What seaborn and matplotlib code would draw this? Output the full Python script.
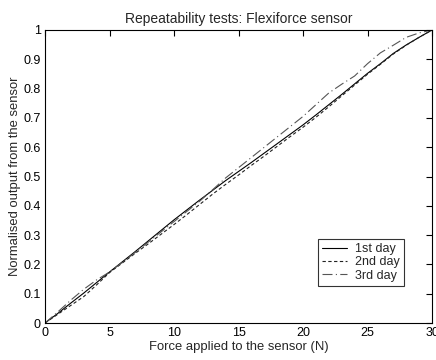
import matplotlib
matplotlib.use("Agg")
import matplotlib.pyplot as plt
import seaborn as sns
import pandas as pd

force = list(range(0, 31))
day1 = [0.0, 0.033, 0.068, 0.102, 0.138, 0.174, 0.209, 0.244, 0.28, 0.316, 0.352,
        0.386, 0.42, 0.453, 0.486, 0.517, 0.548, 0.58, 0.612, 0.644, 0.676,
        0.71, 0.745, 0.78, 0.816, 0.852, 0.885, 0.92, 0.949, 0.975, 1.0]
day2 = [0.0, 0.03, 0.06, 0.09, 0.13, 0.172, 0.205, 0.238, 0.27, 0.303, 0.336,
        0.37, 0.405, 0.44, 0.473, 0.505, 0.538, 0.57, 0.603, 0.636, 0.668,
        0.702, 0.738, 0.775, 0.812, 0.849, 0.883, 0.918, 0.948, 0.975, 1.0]
day3 = [0.0, 0.038, 0.078, 0.115, 0.147, 0.174, 0.207, 0.241, 0.276, 0.311, 0.346,
        0.381, 0.416, 0.455, 0.495, 0.53, 0.565, 0.6, 0.635, 0.67, 0.705,
        0.745, 0.785, 0.815, 0.843, 0.885, 0.922, 0.948, 0.975, 0.99, 1.0]
labels = ["1st day", "2nd day", "3rd day"]

df = pd.concat([
    pd.DataFrame({"force": force, "out": d, "day": lab})
    for d, lab in zip([day1, day2, day3], labels)
])

sns.set_style("white")
plt.rcParams["font.family"] = ["Liberation Sans", "DejaVu Sans"]

fig = plt.figure(figsize=(4.36, 3.6), dpi=100)
ax = fig.add_axes([45/436, 37/360, 387/436, 293/360])

styles = {"1st day": ("-", "black"),
          "2nd day": ((0, (3, 2.2)), "#222222"),
          "3rd day": ((0, (9, 3, 1, 3)), "#555555")}
for lab in labels:
    ls, col = styles[lab]
    sns.lineplot(data=df[df["day"] == lab], x="force", y="out", ax=ax,
                 color=col, linewidth=0.8, linestyle=ls, label=lab)

ax.set_xlim(0, 30)
ax.set_ylim(0, 1)
ax.set_xticks([0, 5, 10, 15, 20, 25, 30])
ax.set_yticks([0, 0.1, 0.2, 0.3, 0.4, 0.5, 0.6, 0.7, 0.8, 0.9, 1])
ax.set_yticklabels(["0", "0.1", "0.2", "0.3", "0.4", "0.5", "0.6", "0.7", "0.8", "0.9", "1"])
ax.tick_params(direction="in", top=True, right=True, length=4, width=0.8,
               labelsize=9, colors="black", pad=3)
for s in ax.spines.values():
    s.set_color("black")
    s.set_linewidth(0.8)

ax.set_xlabel("Force applied to the sensor (N)", fontsize=9.4, labelpad=1)
ax.set_ylabel("Normalised output from the sensor", fontsize=9.4, labelpad=2)
ax.set_title("Repeatability tests: Flexiforce sensor", fontsize=10, pad=5)

leg = ax.legend(loc="lower left", bbox_to_anchor=((318-45)/387, (323-286)/293),
                fontsize=9, frameon=True, fancybox=False, handlelength=2.0,
                borderpad=0.35, labelspacing=0.1, handletextpad=0.6, borderaxespad=0)
leg.get_frame().set_edgecolor("black")
leg.get_frame().set_linewidth(0.8)

fig.savefig("out.png", dpi=100, facecolor="white")
